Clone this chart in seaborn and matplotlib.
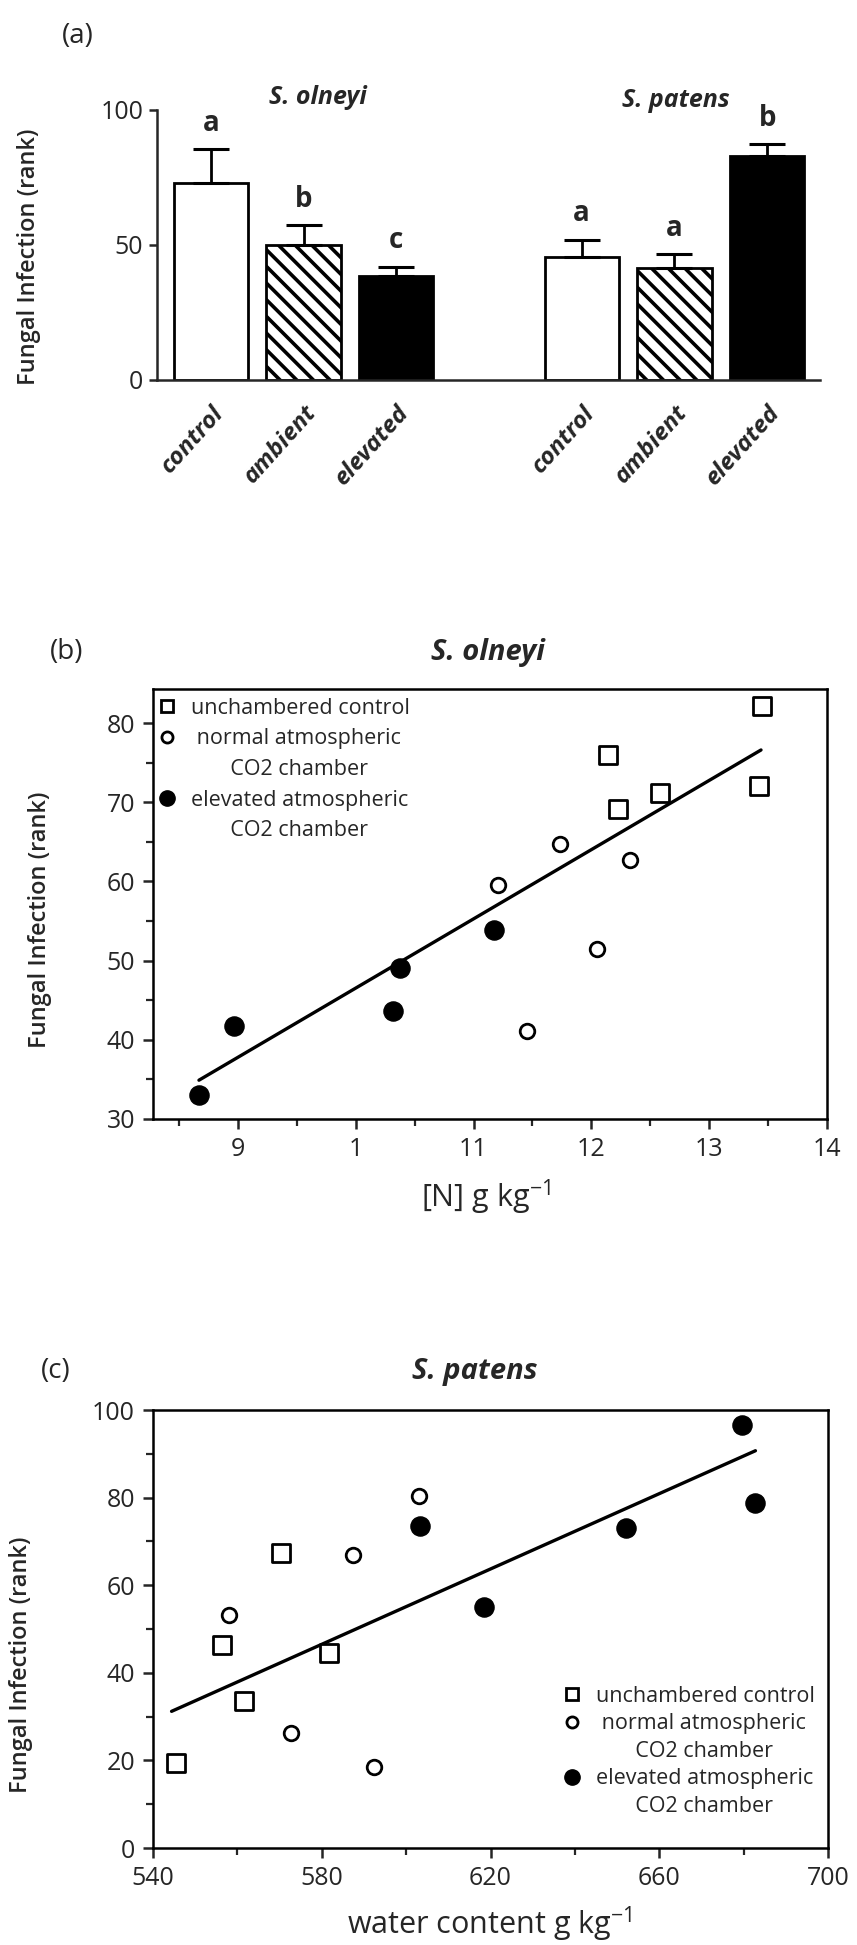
import matplotlib
matplotlib.use("Agg")
import matplotlib.pyplot as plt
import seaborn as sns
import numpy as np
import pandas as pd
from matplotlib.lines import Line2D
from matplotlib.ticker import MultipleLocator

# ---------------- data ----------------
# Panel (a)
bar_species = ["S. olneyi", "S. olneyi", "S. olneyi", "S. patens", "S. patens", "S. patens"]
bar_treatment = ["control", "ambient", "elevated", "control", "ambient", "elevated"]
bar_pos = [0, 1, 2, 4, 5, 6]
bar_means = [73, 50, 38.5, 45.5, 41.5, 83]
bar_err = [12.5, 7.5, 3.5, 6.5, 5, 4.5]
sig_letters = ["a", "b", "c", "a", "a", "b"]

# Panel (b)  S. olneyi, [N] vs infection
b_ctrl_x = [13.45, 12.14, 12.23, 12.58, 13.42]
b_ctrl_y = [82.1, 76.0, 69.2, 71.2, 72.0]
b_amb_x = [11.73, 12.33, 11.21, 12.05, 11.45]
b_amb_y = [64.7, 62.7, 59.6, 51.5, 41.1]
b_elev_x = [8.67, 8.97, 10.32, 10.38, 11.17]
b_elev_y = [33.0, 41.8, 43.7, 49.1, 53.9]
b_fit_x = [8.67, 13.44]
b_fit_y = [34.9, 76.6]
b_xticks = [9, 10, 11, 12, 13, 14]
b_xticklabels = ["9", "1", "11", "12", "13", "14"]
b_yticks = [30, 40, 50, 60, 70, 80]

# Panel (c)  S. patens, water content vs infection
c_ctrl_x = [545.4, 556.4, 561.6, 570.3, 581.7]
c_ctrl_y = [19.5, 46.4, 33.6, 67.3, 44.5]
c_amb_x = [558.0, 572.6, 587.5, 592.3, 603.0]
c_amb_y = [53.1, 26.2, 67.0, 18.5, 80.4]
c_elev_x = [603.4, 618.5, 652.2, 679.7, 682.6]
c_elev_y = [73.5, 55.0, 73.0, 96.6, 78.8]
c_fit_x = [544.4, 682.8]
c_fit_y = [31.2, 90.7]
c_xticks = [540, 580, 620, 660, 700]
c_yticks = [0, 20, 40, 60, 80, 100]

legend_labels = ["unchambered control", " normal atmospheric", "       CO2 chamber",
                 "elevated atmospheric", "       CO2 chamber"]

# ---------------- style ----------------
sns.set_theme(style="white")
plt.rcParams["font.family"] = ["Open Sans", "DejaVu Sans"]
plt.rcParams["mathtext.default"] = "regular"
plt.rcParams["hatch.linewidth"] = 2.6
plt.rcParams["axes.linewidth"] = 1.8

W, H = 857, 1945
fig = plt.figure(figsize=(W / 100, H / 100), dpi=100)


def frame(left, right, top, bottom):
    return [left / W, 1 - bottom / H, (right - left) / W, (bottom - top) / H]


# ---------------- panel (a) ----------------
axa = fig.add_axes(frame(157, 820, 110, 380))
dfa = pd.DataFrame({"pos": bar_pos, "mean": bar_means, "treatment": bar_treatment})
sns.barplot(data=dfa, x="pos", y="mean", hue="treatment", native_scale=True, dodge=False,
            palette={"control": "white", "ambient": "white", "elevated": "black"},
            edgecolor="black", linewidth=2.0, width=0.8, legend=False, ax=axa)
for p in axa.patches:
    cx = p.get_x() + p.get_width() / 2
    idx = int(np.argmin([abs(cx - b) for b in bar_pos]))
    if bar_treatment[idx] == "ambient":
        p.set_hatch("\\\\")
axa.errorbar(bar_pos, bar_means, yerr=[np.zeros(len(bar_err)), bar_err], fmt="none",
             ecolor="black", elinewidth=2.0, capsize=13, capthick=2.2, zorder=1)
for x, m, e, l in zip(bar_pos, bar_means, bar_err, sig_letters):
    axa.annotate(l, (x, m + e), xytext=(0, 8), textcoords="offset points",
                 ha="center", va="bottom", fontsize=20, fontweight="bold")
axa.set_xlim(-0.58, 6.57)
axa.set_ylim(0, 100)
axa.set_yticks([0, 50, 100])
axa.set_xticks(bar_pos)
axa.set_xticklabels(bar_treatment, rotation=48, ha="right", rotation_mode="anchor",
                    fontsize=17.5, fontweight="bold", fontstyle="italic")
axa.tick_params(axis="x", length=0, pad=15)
axa.tick_params(axis="y", direction="out", length=6, width=1.8, labelsize=18, pad=4, left=True)
axa.spines["top"].set_visible(False)
axa.spines["right"].set_visible(False)
axa.set_xlabel("")
axa.set_ylabel("Fungal Infection (rank)", fontsize=17, fontweight="semibold")
axa.yaxis.set_label_coords(-0.175, 0.455)
for xc, yc, sp in [(1.16, 1.045, "S. olneyi"), (5.02, 1.035, "S. patens")]:
    axa.text(xc, yc, sp, transform=axa.get_xaxis_transform(), ha="center", va="center",
             fontsize=18, fontweight="bold", fontstyle="italic")
fig.text(78 / W, 1 - 36 / H, "(a)", ha="center", va="center", fontsize=20)


# ---------------- scatter helper ----------------
def scatter_panel(ax, cx, cy, ax_, ay, ex, ey, fx, fy):
    sns.scatterplot(x=cx, y=cy, marker="s", s=150, facecolor="white", edgecolor="black",
                    linewidth=2.0, ax=ax, zorder=3)
    sns.scatterplot(x=ax_, y=ay, marker="o", s=110, facecolor="white", edgecolor="black",
                    linewidth=2.0, ax=ax, zorder=3)
    sns.scatterplot(x=ex, y=ey, marker="o", s=190, facecolor="black", edgecolor="black",
                    linewidth=1.0, ax=ax, zorder=3)
    sns.lineplot(x=fx, y=fy, color="black", linewidth=2.4, ax=ax, zorder=2)
    for s in ax.spines.values():
        s.set_visible(True)
        s.set_color("black")
        s.set_linewidth(1.8)


def legend_handles():
    return [
        Line2D([], [], marker="s", ls="none", mfc="white", mec="black", ms=9, mew=2.0),
        Line2D([], [], marker="o", ls="none", mfc="white", mec="black", ms=8, mew=2.0),
        Line2D([], [], ls="none"),
        Line2D([], [], marker="o", ls="none", mfc="black", mec="black", ms=11, mew=1.0),
        Line2D([], [], ls="none"),
    ]


def style_scatter_axes(ax):
    ax.tick_params(which="major", direction="out", length=7, width=1.8, labelsize=18,
                   bottom=True, left=True, pad=6)
    ax.tick_params(which="minor", direction="out", length=5, width=1.6, bottom=True, left=True)


# ---------------- panel (b) ----------------
axb = fig.add_axes(frame(153, 827, 689, 1119))
scatter_panel(axb, b_ctrl_x, b_ctrl_y, b_amb_x, b_amb_y, b_elev_x, b_elev_y, b_fit_x, b_fit_y)
axb.set_xlim(8.28, 14.0)
axb.set_ylim(30, 84.3)
axb.set_xticks(b_xticks)
axb.set_xticklabels(b_xticklabels)
axb.set_yticks(b_yticks)
axb.xaxis.set_minor_locator(MultipleLocator(0.5))
axb.yaxis.set_minor_locator(MultipleLocator(5))
style_scatter_axes(axb)
axb.set_xlabel("[N] g kg$^{-1}$", fontsize=22)
axb.xaxis.set_label_coords(0.494, -0.137)
axb.set_ylabel("Fungal Infection (rank)", fontsize=17, fontweight="semibold")
axb.yaxis.set_label_coords(-0.15, 0.463)
axb.text(0.497, 1.086, "S. olneyi", transform=axb.transAxes, ha="center", va="center",
         fontsize=21, fontweight="bold", fontstyle="italic")
fig.text(67 / W, 1 - 652 / H, "(b)", ha="center", va="center", fontsize=20)
axb.legend(legend_handles(), legend_labels, loc="upper left", bbox_to_anchor=(0.005, 0.98),
           frameon=False, fontsize=15.5, handlelength=1.0, handletextpad=0.6,
           labelspacing=0.45, borderaxespad=0, borderpad=0)

# ---------------- panel (c) ----------------
axc = fig.add_axes(frame(153, 828, 1410, 1848))
scatter_panel(axc, c_ctrl_x, c_ctrl_y, c_amb_x, c_amb_y, c_elev_x, c_elev_y, c_fit_x, c_fit_y)
axc.set_xlim(540, 700)
axc.set_ylim(0, 100)
axc.set_xticks(c_xticks)
axc.set_yticks(c_yticks)
axc.xaxis.set_minor_locator(MultipleLocator(20))
axc.yaxis.set_minor_locator(MultipleLocator(10))
style_scatter_axes(axc)
axc.set_xlabel("water content g kg$^{-1}$", fontsize=22)
axc.xaxis.set_label_coords(0.498, -0.13)
axc.set_ylabel("Fungal Infection (rank)", fontsize=17, fontweight="semibold")
axc.yaxis.set_label_coords(-0.178, 0.418)
axc.text(0.476, 1.089, "S. patens", transform=axc.transAxes, ha="center", va="center",
         fontsize=21, fontweight="bold", fontstyle="italic")
fig.text(56 / W, 1 - 1371 / H, "(c)", ha="center", va="center", fontsize=20)
axc.legend(legend_handles(), legend_labels, loc="upper left", bbox_to_anchor=(0.605, 0.37),
           frameon=False, fontsize=15.5, handlelength=1.0, handletextpad=0.6,
           labelspacing=0.3, borderaxespad=0, borderpad=0)

fig.savefig("out.png", dpi=100, facecolor="white")
